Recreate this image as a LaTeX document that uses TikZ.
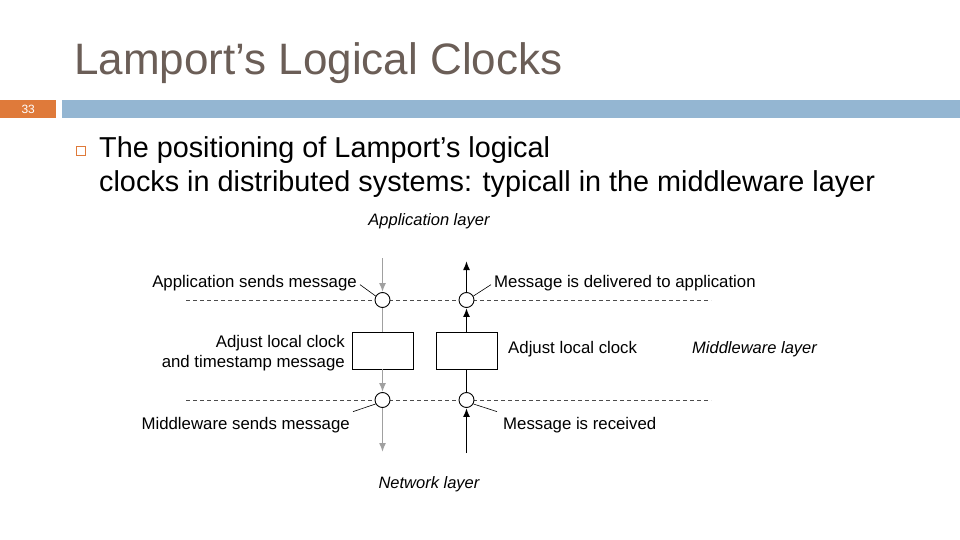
\documentclass[tikz,border=0pt]{standalone}
\usepackage{fontspec}
\setmainfont{Liberation Sans}
\usetikzlibrary{arrows.meta}
\definecolor{titlecol}{HTML}{6B5E57}
\definecolor{orangec}{HTML}{DF7A3A}
\definecolor{bluebar}{HTML}{94B6D2}
\definecolor{leftgray}{HTML}{A0A0A0}
\begin{document}
\begin{tikzpicture}[x=1pt,y=-1pt,
  lbl/.style={font=\fontsize{16.8}{20}\selectfont, inner sep=0pt},
  ital/.style={font=\fontsize{16.5}{20}\selectfont\itshape, inner sep=0pt},
  circ/.style={circle, draw, line width=0.9pt, fill=white, minimum size=15pt, inner sep=0pt},
  boxx/.style={draw, line width=0.9pt, minimum width=61pt, minimum height=37pt, inner sep=0pt},
  tipd/.style={-{Latex[length=9pt,width=7pt]}},
  dashline/.style={dash pattern=on 4pt off 3pt, line width=0.6pt, draw=black!70},
  leader/.style={line width=0.6pt}
]
\useasboundingbox[fill=white] (0,0) rectangle (960,540);
% header
\node[anchor=base west, inner sep=0pt, text=titlecol, font=\fontsize{44}{50}\selectfont] (title) at (74,75) {Lamport’s Logical Clocks};
\node[fill=orangec, minimum width=56pt, minimum height=18pt, inner sep=0pt, anchor=north west, text=white, font=\fontsize{12}{13}\selectfont] (num) at (0,100) {33};
\node[fill=bluebar, minimum width=898pt, minimum height=18pt, inner sep=0pt, anchor=north west] (bar) at (62,100) {};
% bullet
\node[draw=orangec, line width=1.4pt, minimum size=9pt, inner sep=0pt] (bul) at (81,151) {};
\node[anchor=base west, inner sep=0pt, font=\fontsize{28.8}{32}\selectfont] (l1) at (99,158) {The positioning of Lamport’s logical};
\node[anchor=base west, inner sep=0pt, font=\fontsize{28.8}{32}\selectfont] (l2) at (99,191) {clocks in distributed systems: typicall in the middleware layer};
% diagram
\node[ital, anchor=base] (app) at (429,225) {Application layer};
\node[ital, anchor=base] (net) at (429,488) {Network layer};
\node[ital, anchor=base west] (mid) at (692,353) {Middleware layer};

\coordinate (d1a) at (186,300);
\coordinate (d1b) at (711,300);
\coordinate (d2a) at (186,400);
\coordinate (d2b) at (711,400);
\draw[dashline] (d1a) -- (d1b);
\draw[dashline] (d2a) -- (d2b);

\node[boxx] (b1) at (382.5,350.5) {};
\node[boxx] (b2) at (466.5,350.5) {};
\node[circ] (c1) at (382.5,300) {};
\node[circ] (c2) at (466.5,300) {};
\node[circ] (c3) at (382.5,400) {};
\node[circ] (c4) at (466.5,400) {};

\coordinate (ltop) at (382.5,258);
\coordinate (lbot) at (382.5,452);
\coordinate (rtop) at (466.5,261);
\coordinate (rbot) at (466.5,453);

\draw[leftgray, line width=1.5pt, tipd] (ltop) -- (c1.north);
\draw[leftgray, line width=1.5pt] (c1.south) -- (b1.north);
\draw[leftgray, line width=1.5pt, tipd] (b1.south) -- (c3.north);
\draw[leftgray, line width=1.5pt, tipd] (c3.south) -- (lbot);

\draw[black, line width=1.5pt, tipd] (rbot) -- (c4.south);
\draw[black, line width=1.5pt] (c4.north) -- (b2.south);
\draw[black, line width=1.5pt, tipd] (b2.north) -- (c2.south);
\draw[black, line width=1.5pt, tipd] (c2.north) -- (rtop);

% labels
\node[lbl, anchor=base east] (t1) at (357,287) {Application sends message};
\node[lbl, anchor=base west] (t2) at (494,287) {Message is delivered to application};
\node[lbl, anchor=base east] (t3a) at (345,347) {Adjust local clock};
\node[lbl, anchor=base east] (t3b) at (345,367) {and timestamp message};
\node[lbl, anchor=base west] (t4) at (508,353) {Adjust local clock};
\node[lbl, anchor=base east] (t5) at (350,429) {Middleware sends message};
\node[lbl, anchor=base west] (t6) at (503,429) {Message is received};

\draw[leader] ([xshift=3pt,yshift=-2pt]t1.east) -- (c1.150);
\draw[leader] ([xshift=-3pt,yshift=-2pt]t2.west) -- (c2.30);
\draw[leader] ([xshift=3pt,yshift=5pt]t5.north east) -- (c3.210);
\draw[leader] ([xshift=-6pt,yshift=5pt]t6.north west) -- (c4.330);
\end{tikzpicture}
\end{document}
